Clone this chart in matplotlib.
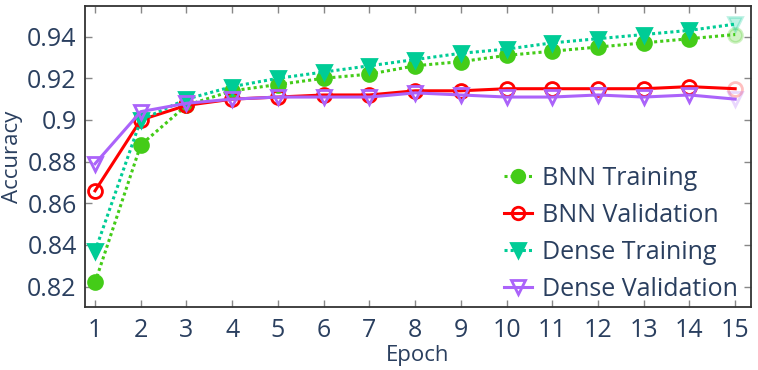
import matplotlib
matplotlib.use("Agg")
import matplotlib.pyplot as plt

# =========================================================
# DATA
# =========================================================

epochs = [1, 2, 3, 4, 5, 6, 7, 8, 9, 10, 11, 12, 13, 14, 15]

bnn_train = [0.822, 0.888, 0.907, 0.914, 0.917, 0.920, 0.922, 0.926,
             0.928, 0.931, 0.933, 0.935, 0.937, 0.939, 0.941]
bnn_val = [0.866, 0.900, 0.907, 0.910, 0.911, 0.912, 0.912, 0.914,
           0.914, 0.915, 0.915, 0.915, 0.915, 0.916, 0.915]
dense_train = [0.837, 0.900, 0.910, 0.916, 0.920, 0.923, 0.926, 0.929,
               0.932, 0.934, 0.937, 0.939, 0.941, 0.943, 0.946]
dense_val = [0.879, 0.904, 0.908, 0.910, 0.911, 0.911, 0.911, 0.913,
             0.912, 0.911, 0.911, 0.912, 0.911, 0.912, 0.910]

y_ticks = [0.82, 0.84, 0.86, 0.88, 0.9, 0.92, 0.94]
y_tick_labels = ["0.82", "0.84", "0.86", "0.88", "0.9", "0.92", "0.94"]

# =========================================================
# STYLE
# =========================================================

plt.rcParams['font.family'] = ['Open Sans', 'DejaVu Sans']
text_color = '#2a3f5f'

green = '#44cc18'
red = '#ff0000'
teal = '#00cc96'
purple = '#ab63fa'

fig = plt.figure(figsize=(7.58, 3.70), dpi=100)
ax = fig.add_axes([0.1121, 0.1695, 0.8783, 0.8143])

series = [
    (bnn_train, "BNN Training", green, 'o', True, (0, (1, 1))),
    (bnn_val, "BNN Validation", red, 'o', False, '-'),
    (dense_train, "Dense Training", teal, 'v', True, (0, (1, 1))),
    (dense_val, "Dense Validation", purple, 'v', False, '-'),
]

for values, label, color, marker, filled, ls in series:
    ax.plot(
        epochs, values,
        color=color,
        linestyle=ls,
        linewidth=2.2,
        marker=marker,
        markersize=10 if marker == 'o' else 10.5,
        markerfacecolor=color if filled else 'none',
        markeredgecolor=color,
        markeredgewidth=2.0,
        markevery=list(range(len(epochs) - 1)),
        label=label,
        clip_on=False
    )
    # last marker is drawn faded on the plot edge
    ax.plot(
        epochs[-1:], values[-1:],
        linestyle='none',
        marker=marker,
        markersize=10 if marker == 'o' else 10.5,
        markerfacecolor=color if filled else 'none',
        markeredgecolor=color,
        markeredgewidth=2.0,
        alpha=0.25,
        clip_on=False
    )

# =========================================================
# AXES
# =========================================================

ax.set_xlim(0.78, 15.34)
ax.set_ylim(0.8101, 0.9547)

ax.set_xticks(epochs)
ax.set_xticklabels([str(e) for e in epochs])
ax.set_yticks(y_ticks)
ax.set_yticklabels(y_tick_labels)

ax.tick_params(
    axis='both', direction='in', length=5, width=1,
    color='#888888', labelsize=18, labelcolor=text_color,
    top=True, right=True
)
ax.tick_params(axis='x', pad=8)
ax.tick_params(axis='y', pad=6)

for spine in ax.spines.values():
    spine.set_color('#333333')
    spine.set_linewidth(1.3)

ax.set_xlabel("Epoch", fontsize=16, color=text_color, labelpad=1)
ax.set_ylabel("Accuracy", fontsize=16, color=text_color, labelpad=3)

# =========================================================
# LEGEND
# =========================================================

handles, labels = ax.get_legend_handles_labels()

ax.legend(
    handles, labels,
    loc='upper left',
    bbox_to_anchor=(0.63, 0.47),
    borderpad=0,
    borderaxespad=0,
    frameon=False,
    fontsize=18,
    labelcolor=text_color,
    handlelength=1.1,
    handletextpad=0.4,
    labelspacing=0.48,
    markerscale=0.9
)

plt.savefig("out.png", dpi=100)
